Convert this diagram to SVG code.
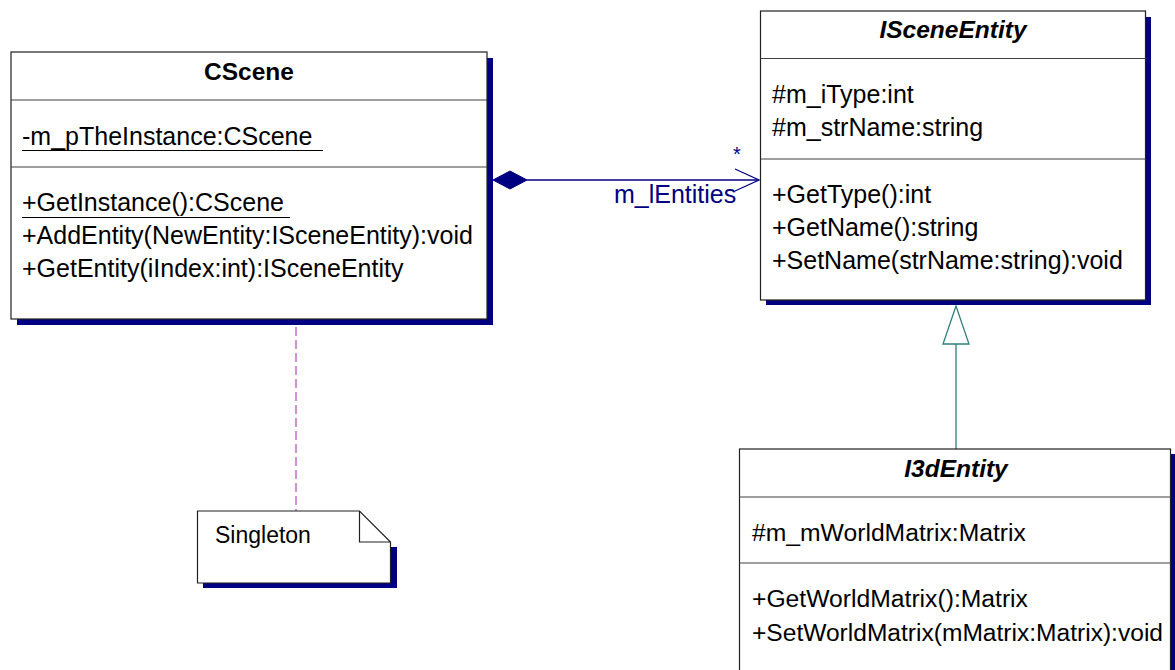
<svg xmlns="http://www.w3.org/2000/svg" width="1175" height="670" viewBox="0 0 1175 670">
  <style>
    text { font-family: "Liberation Sans", Arial, sans-serif; font-size: 25px; fill: #000; }
    .title { font-weight: bold; text-anchor: middle; font-size: 24.5px; }
    .abstract { font-style: italic; }
    .box { fill: #fff; stroke: #202020; stroke-width: 1.2; }
    .shadow { fill: #000080; }
    .div { stroke: #404040; stroke-width: 1.2; }
    .ul { stroke: #000; stroke-width: 1.2; }
    .assoc { stroke: #000080; stroke-width: 1.3; fill: none; }
    .gen { stroke: #2f7f7f; stroke-width: 1.3; fill: #fff; }
    .anchor { stroke: #c070c8; stroke-width: 1.5; stroke-dasharray: 9 4; fill: none; }
    .role { fill: #000080; }
  </style>
  <rect width="1175" height="670" fill="#fff"/>

  <!-- connectors -->
  <g id="connectors">
    <!-- composition CScene -> ISceneEntity -->
    <line class="assoc" x1="527" y1="180" x2="759" y2="180"/>
    <polygon points="493,180 510,171 527,180 510,189" fill="#000080" stroke="#000080" stroke-width="1"/>
    <polyline class="assoc" points="735,169 759,180 735,191"/>
    <text class="role" x="733" y="161" style="font-size:20px">*</text>
    <text class="role" x="614" y="203">m_lEntities</text>
    <!-- generalization I3dEntity -> ISceneEntity -->
    <line class="gen" x1="956" y1="449" x2="956" y2="344"/>
    <polygon class="gen" points="956,306 943,344 969,344"/>
    <!-- note anchor -->
    <line class="anchor" x1="296" y1="327" x2="296" y2="511"/>
  </g>

  <!-- CScene -->
  <g id="CScene">
    <rect class="shadow" x="17" y="58" width="476" height="267"/>
    <rect class="box" x="11" y="52" width="476" height="267"/>
    <line class="div" x1="11" y1="100" x2="487" y2="100"/>
    <line class="div" x1="11" y1="167" x2="487" y2="167"/>
    <text class="title" x="249" y="80">CScene</text>
    <text x="22" y="145">-m_pTheInstance:CScene</text>
    <line class="ul" x1="22" y1="150.5" x2="323" y2="150.5"/>
    <text x="22" y="211">+GetInstance():CScene</text>
    <line class="ul" x1="22" y1="217.5" x2="290" y2="217.5"/>
    <text x="22" y="244">+AddEntity(NewEntity:ISceneEntity):void</text>
    <text x="22" y="277">+GetEntity(iIndex:int):ISceneEntity</text>
  </g>

  <!-- ISceneEntity -->
  <g id="ISceneEntity">
    <rect class="shadow" x="766" y="17" width="385" height="288"/>
    <rect class="box" x="760.5" y="11" width="385" height="289"/>
    <line class="div" x1="760.5" y1="58.5" x2="1145.5" y2="58.5"/>
    <line class="div" x1="760.5" y1="159" x2="1145.5" y2="159"/>
    <text class="title abstract" x="953" y="38">ISceneEntity</text>
    <text x="772" y="103">#m_iType:int</text>
    <text x="772" y="136">#m_strName:string</text>
    <text x="772" y="203">+GetType():int</text>
    <text x="772" y="236">+GetName():string</text>
    <text x="772" y="269">+SetName(strName:string):void</text>
  </g>

  <!-- I3dEntity -->
  <g id="I3dEntity">
    <rect class="shadow" x="745" y="454" width="430" height="230"/>
    <rect class="box" x="739.5" y="449" width="431" height="240"/>
    <line class="div" x1="739.5" y1="497" x2="1170.5" y2="497"/>
    <line class="div" x1="739.5" y1="563" x2="1170.5" y2="563"/>
    <text class="title abstract" x="956" y="477">I3dEntity</text>
    <text x="752" y="541" style="font-size:24.7px">#m_mWorldMatrix:Matrix</text>
    <text x="752" y="607" style="font-size:24.7px">+GetWorldMatrix():Matrix</text>
    <text x="752" y="641" style="font-size:24.7px" textLength="411" lengthAdjust="spacingAndGlyphs">+SetWorldMatrix(mMatrix:Matrix):void</text>
  </g>

  <!-- Singleton note -->
  <g id="SingletonNote">
    <path class="shadow" d="M203,588 H397 V547 H391 V583 H203 Z"/>
    <path class="box" d="M197.5,511 H359.5 L390.5,542 V583 H197.5 Z"/>
    <polyline points="359.5,511 359.5,542 390.5,542" fill="none" stroke="#202020" stroke-width="1.2"/>
    <text x="215" y="543" style="font-size:23px">Singleton</text>
  </g>
</svg>
